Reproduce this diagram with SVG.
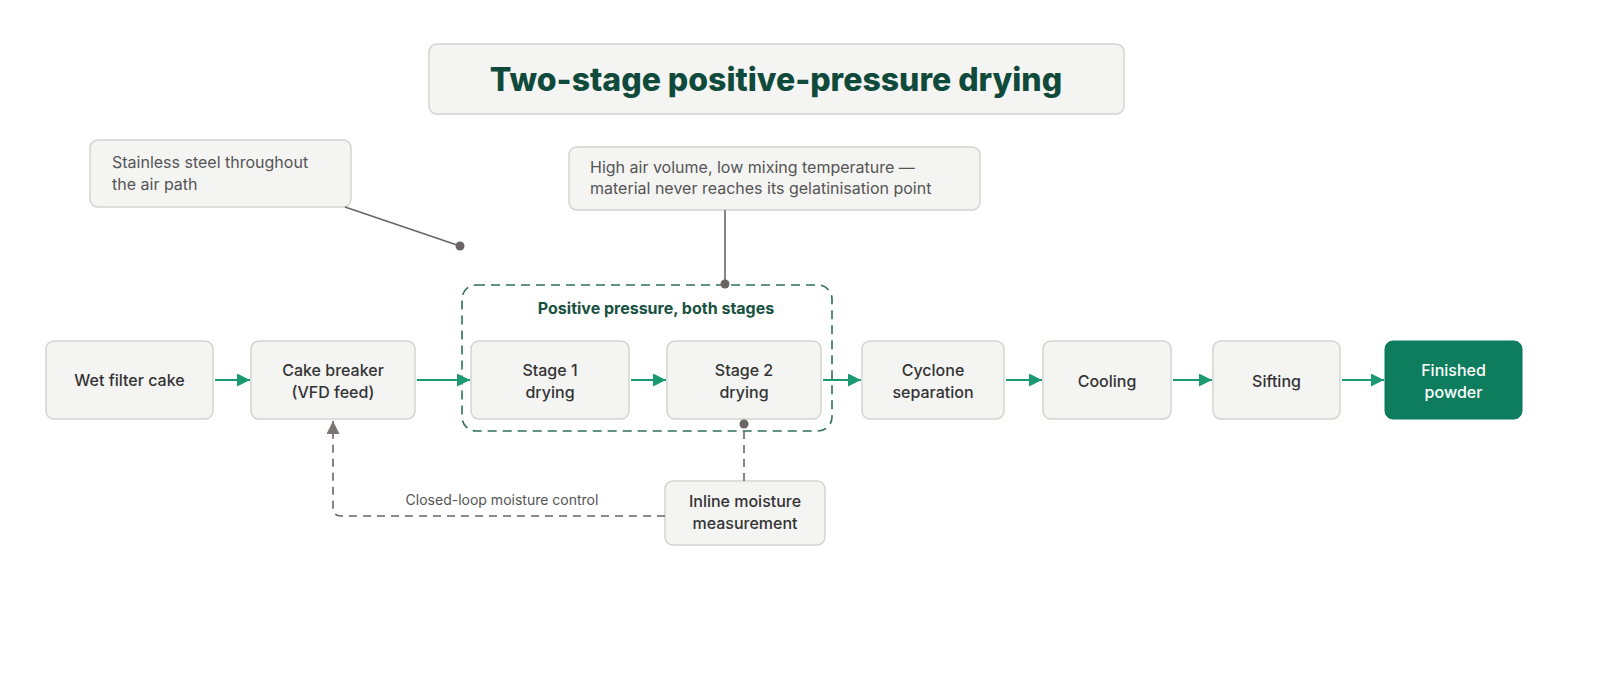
<svg xmlns="http://www.w3.org/2000/svg" width="1600" height="673" viewBox="0 0 1600 673">
<style>
.box{fill:#f4f4f3;stroke:#d3d3d1;stroke-width:1.5}
.t{font-family:Inter,"Liberation Sans",sans-serif;font-size:16px;fill:#333;text-anchor:middle;font-weight:500}
.n{font-family:Inter,"Liberation Sans",sans-serif;font-size:16px;fill:#555}
.g{stroke:#1b9a72;stroke-width:2;fill:none}
.gr{stroke:#6b6464;stroke-width:1.6;fill:none}
</style>
<defs>
<marker id="ag" viewBox="0 0 10 10" refX="10" refY="5" markerWidth="13" markerHeight="13" orient="auto" markerUnits="userSpaceOnUse"><path d="M0,0L10,5L0,10z" fill="#1b9a72"/></marker>
<marker id="agr" viewBox="0 0 10 10" refX="10" refY="5" markerWidth="13" markerHeight="13" orient="auto" markerUnits="userSpaceOnUse"><path d="M0,0L10,5L0,10z" fill="#7a7474"/></marker>
</defs>
<rect width="1600" height="673" fill="#fff"/>
<g id="title"><rect x="429" y="44" width="695" height="70" rx="8" class="box"/>
<text x="776" y="91" font-family="Inter,'Liberation Sans',sans-serif" font-size="32" font-weight="800" fill="#0f4a3a" text-anchor="middle">Two-stage positive-pressure drying</text></g>
<g id="note1"><rect x="90" y="140" width="261" height="67" rx="8" class="box"/>
<text class="n" x="112" y="168">Stainless steel throughout</text><text class="n" x="112" y="190">the air path</text></g>
<g id="note2"><rect x="569" y="147" width="411" height="63" rx="8" class="box"/>
<text class="n" x="590" y="173">High air volume, low mixing temperature —</text><text class="n" x="590" y="194">material never reaches its gelatinisation point</text></g>
<g id="group"><rect x="462" y="285" width="370" height="146" rx="14" fill="none" stroke="#2e6f5c" stroke-width="1.6" stroke-dasharray="9 6"/>
<text x="656" y="314" font-family="Inter,'Liberation Sans',sans-serif" font-size="16" font-weight="700" fill="#17513f" text-anchor="middle">Positive pressure, both stages</text></g>
<g id="wet"><rect x="46" y="341" width="167" height="78" rx="8" class="box"/><text class="t" x="129.5" y="386">Wet filter cake</text></g>
<g id="cake"><rect x="251" y="341" width="164" height="78" rx="8" class="box"/><text class="t" x="333" y="376">Cake breaker</text><text class="t" x="333" y="398">(VFD feed)</text></g>
<g id="stage1"><rect x="471" y="341" width="158" height="78" rx="8" class="box"/><text class="t" x="550" y="376">Stage 1</text><text class="t" x="550" y="398">drying</text></g>
<g id="stage2"><rect x="667" y="341" width="154" height="78" rx="8" class="box"/><text class="t" x="744" y="376">Stage 2</text><text class="t" x="744" y="398">drying</text></g>
<g id="cyclone"><rect x="862" y="341" width="142" height="78" rx="8" class="box"/><text class="t" x="933" y="376">Cyclone</text><text class="t" x="933" y="398">separation</text></g>
<g id="cooling"><rect x="1043" y="341" width="128" height="78" rx="8" class="box"/><text class="t" x="1107" y="387">Cooling</text></g>
<g id="sifting"><rect x="1213" y="341" width="127" height="78" rx="8" class="box"/><text class="t" x="1276.5" y="387">Sifting</text></g>
<g id="finished"><rect x="1385" y="341" width="137" height="78" rx="8" fill="#0e7d5d" stroke="#0e7d5d"/><text class="t" x="1453.5" y="376" style="fill:#fff">Finished</text><text class="t" x="1453.5" y="398" style="fill:#fff">powder</text></g>
<g id="inline"><rect x="665" y="481" width="160" height="64" rx="8" class="box"/><text class="t" x="745" y="507">Inline moisture</text><text class="t" x="745" y="529">measurement</text></g>
<g id="connectors">
<path class="g" d="M215,380H250" marker-end="url(#ag)"/>
<path class="g" d="M417,380H470" marker-end="url(#ag)"/>
<path class="g" d="M631,380H666" marker-end="url(#ag)"/>
<path class="g" d="M823,380H861" marker-end="url(#ag)"/>
<path class="g" d="M1006,380H1042" marker-end="url(#ag)"/>
<path class="g" d="M1173,380H1212" marker-end="url(#ag)"/>
<path class="g" d="M1342,380H1384" marker-end="url(#ag)"/>
<path class="gr" d="M345,207L460,246"/><circle cx="460" cy="246" r="4.5" fill="#6b6464"/>
<path class="gr" d="M725,210V284"/><circle cx="725" cy="284" r="4.5" fill="#6b6464"/>
<path class="gr" stroke-dasharray="8 6" d="M744,481V424"/><circle cx="744" cy="424" r="4.5" fill="#6b6464"/>
<path class="gr" stroke-dasharray="8 6" d="M665,516H341Q333,516 333,508V421" marker-end="url(#agr)"/>
<text class="n" x="502" y="505" text-anchor="middle" font-size="14" style="font-size:14px">Closed-loop moisture control</text>
</g>
</svg>
